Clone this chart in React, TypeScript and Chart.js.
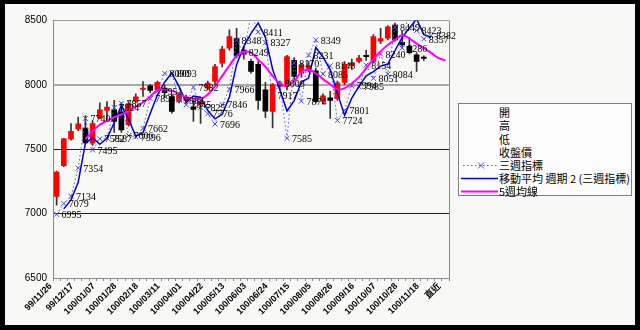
import React, { useEffect, useRef } from 'react';
import { Chart, registerables } from 'chart.js';

Chart.register(...registerables);

// weekly categories (ROC calendar), last one is the latest
const weekLabels = [
  '99/11/26', '99/12/03', '99/12/10', '99/12/17', '99/12/24', '99/12/31',
  '100/01/07', '100/01/14', '100/01/21', '100/01/28', '100/02/04', '100/02/11',
  '100/02/18', '100/02/25', '100/03/04', '100/03/11', '100/03/18', '100/03/25',
  '100/04/01', '100/04/08', '100/04/15', '100/04/22', '100/04/29', '100/05/06',
  '100/05/13', '100/05/20', '100/05/27', '100/06/03', '100/06/10', '100/06/17',
  '100/06/24', '100/07/01', '100/07/08', '100/07/15', '100/07/22', '100/07/29',
  '100/08/05', '100/08/12', '100/08/19', '100/08/26', '100/09/02', '100/09/09',
  '100/09/16', '100/09/23', '100/09/30', '100/10/07', '100/10/14', '100/10/21',
  '100/10/28', '100/11/04', '100/11/11', '100/11/18', '100/11/25', '100/12/02',
  '直近',
];

const yTicks = [6500, 7000, 7500, 8000, 8500];

const openV = [
  7134, 7372, 7580, 7657, 7665, 7548, 7742, 7801, 7807, 7790,
  7690, 7871, 7965, 7993, 7962, 7975, 7910, 7871, 7880, 7830,
  7850, 7975, 8026, 8169, 8286, 8360, 8270, 8182, 8160, 7962,
  7794, 8010, 7990, 8190, 8091, 8120, 8110, 7871, 7900, 7895,
  8020, 8150, 8182, 8230, 8182, 8340, 8363, 8465, 8330, 8300,
  8234, 8215,
];
const highV = [
  7330, 7585, 7700, 7750, 7760, 7720, 7860, 7870, 7880, 7860,
  7870, 7930, 8026, 8005, 8030, 8000, 7930, 7940, 7920, 7880,
  7900, 8030, 8160, 8300, 8428, 8440, 8300, 8200, 8180, 8020,
  8010, 8030, 8230, 8210, 8170, 8180, 8130, 7930, 7950, 8030,
  8180, 8200, 8230, 8270, 8390, 8440, 8460, 8480, 8420, 8370,
  8250, 8225,
];
const lowV = [
  7065, 7365, 7570, 7645, 7540, 7530, 7735, 7730, 7630, 7630,
  7680, 7860, 7910, 7940, 7950, 7900, 7780, 7860, 7860, 7716,
  7700, 7960, 8010, 8140, 8270, 8210, 8200, 8090, 7810, 7745,
  7665, 7960, 7960, 8040, 8060, 8100, 7860, 7850, 7740, 7880,
  8000, 8120, 8170, 8190, 8170, 8320, 8350, 8340, 8290, 8240,
  8105, 8190,
];
const closeV = [
  7323, 7580, 7640, 7698, 7550, 7700, 7807, 7828, 7716, 7650,
  7855, 7908, 7975, 7957, 8020, 7940, 7794, 7923, 7900, 7810,
  7870, 8014, 8143, 8278, 8376, 8225, 8240, 8104, 7880, 7795,
  8001, 7990, 8220, 8065, 8156, 8150, 7870, 7915, 7880, 8015,
  8160, 8170, 8208, 8220, 8376, 8360, 8450, 8350, 8310, 8250,
  8182, 8205,
];

const threeWeek = [
  6995, 7079, 7134, 7354, 7740, 7495, 7582, 7587, 7824, 7857,
  7606, 7596, 7662, 7893, 7951, 8090, 8093, 7882, 7845, 7982,
  7825, 7776, 7696, 7846, 7966, 8348, 8249, 8550, 8411, 8327,
  7917, 8008, 7585, 8170, 7874, 8231, 8349, 8085, 8148, 7724,
  7801, 7994, 7985, 8154, 8051, 8240, 8084, 8449, 8286, 8600,
  8423, 8357, 8382, null, null,
];

const movingAvg2 = [
  null, 7037, 7107, 7244, 7547, 7590, 7539, 7585, 7706, 7841,
  7732, 7601, 7629, 7778, 7921, 8021, 8092, 7988, 7864, 7914,
  7904, 7801, 7736, 7771, 7906, 8157, 8299, 8400, 8481, 8369,
  8122, 7963, 7797, 7878, 8022, 8053, 8290, 8217, 8117, 7936,
  7763, 7898, 7990, 8070, 8103, 8146, 8162, 8267, 8368, 8443,
  8512, 8390, 8370, null, null,
];

const fiveWeek = [
  null, null, null, null, 7580, 7640, 7690, 7720, 7750, 7770,
  7795, 7830, 7865, 7910, 7960, 7965, 7955, 7930, 7905, 7895,
  7890, 7925, 7990, 8070, 8150, 8225, 8258, 8250, 8195, 8140,
  8070, 8010, 7995, 8030, 8100, 8115, 8090, 8045, 8005, 7965,
  7975, 8010, 8060, 8130, 8200, 8260, 8310, 8350, 8385, 8360,
  8320, 8285, 8250, 8210, 8190,
];

const legendItems = ['開', '高', '低', '收盤價', '三週指標', '移動平均 週期 2 (三週指標)', '5週均線'];

const pointLabelPlugin = {
  id: 'pointLabels',
  afterDatasetsDraw(chart: any) {
    const idx = chart.data.datasets.findIndex((d: any) => d.label === '三週指標');
    if (idx < 0) return;
    const meta = chart.getDatasetMeta(idx);
    const data = chart.data.datasets[idx].data;
    const c = chart.ctx;
    const { top, bottom } = chart.chartArea;
    c.save();
    c.font = '10px "Liberation Serif", "DejaVu Serif", serif';
    c.fillStyle = '#000';
    c.textBaseline = 'middle';
    c.textAlign = 'left';
    meta.data.forEach((pt: any, i: number) => {
      const v = data[i];
      if (v == null) return;
      if (pt.y < top - 1 || pt.y > bottom + 1) return;
      c.fillText(String(v), pt.x + 5, pt.y + 1);
    });
    c.restore();
  },
};

const frameRightPlugin = {
  id: 'frameRight',
  beforeDatasetsDraw(chart: any) {
    const { right, top, bottom } = chart.chartArea;
    const c = chart.ctx;
    c.save();
    c.strokeStyle = '#8a8a8a';
    c.lineWidth = 1;
    c.beginPath();
    c.moveTo(right + 0.5, top);
    c.lineTo(right + 0.5, bottom);
    c.stroke();
    c.restore();
  },
};

export default function App() {
  const ref = useRef<HTMLCanvasElement | null>(null);

  useEffect(() => {
    if (!ref.current) return;
    const bodies = openV.map((o, i) => [o, closeV[i]]);
    const wicks = lowV.map((l, i) => [l, highV[i]]);
    const bodyColors = openV.map((o, i) => (closeV[i] >= o ? '#ff0000' : '#000000'));

    const chart = new Chart(ref.current, {
      type: 'bar',
      data: {
        labels: weekLabels,
        datasets: [
          {
            type: 'line',
            label: '5週均線',
            data: fiveWeek as any,
            borderColor: '#ff00ff',
            borderWidth: 2,
            pointRadius: 0,
            tension: 0.4,
            fill: false,
            order: 0,
          },
          {
            type: 'line',
            label: '移動平均 週期 2 (三週指標)',
            data: movingAvg2 as any,
            borderColor: '#0000c8',
            borderWidth: 1.5,
            pointRadius: 0,
            tension: 0,
            fill: false,
            order: 1,
          },
          {
            type: 'line',
            label: '三週指標',
            data: threeWeek as any,
            borderColor: '#5a5ad8',
            borderWidth: 1,
            borderDash: [1.5, 2.5],
            pointStyle: 'crossRot',
            pointRadius: 3.5,
            pointBorderColor: '#4a4ad0',
            pointBorderWidth: 1,
            tension: 0,
            fill: false,
            order: 2,
          },
          {
            type: 'bar',
            label: '收盤價',
            data: bodies as any,
            backgroundColor: bodyColors,
            borderWidth: 0,
            barThickness: 5,
            grouped: false,
            order: 5,
          } as any,
          {
            type: 'bar',
            label: '高低',
            data: wicks as any,
            backgroundColor: '#333333',
            borderWidth: 0,
            barThickness: 1,
            grouped: false,
            order: 6,
          } as any,
        ],
      },
      options: {
        responsive: false,
        animation: false,
        events: [],
        layout: { padding: { left: 0, top: 20.5, right: 191, bottom: 0 } },
        plugins: { legend: { display: false }, tooltip: { enabled: false } },
        scales: {
          x: {
            type: 'category',
            offset: true,
            grid: {
              display: true,
              drawOnChartArea: false,
              drawTicks: true,
              tickLength: 3,
              color: '#8a8a8a',
            },
            border: { color: '#8a8a8a' },
            ticks: {
              autoSkip: false,
              minRotation: 45,
              maxRotation: 45,
              padding: 0,
              labelOffset: -6,
              color: '#000',
              font: { family: '"Liberation Sans", "Noto Sans CJK TC", sans-serif', size: 9, weight: 'bold' },
              callback: (_v: any, i: number) => (i % 3 === 0 ? weekLabels[i] : ''),
            },
            afterFit: (scale: any) => {
              scale.height = 52;
            },
          },
          y: {
            type: 'linear',
            min: yTicks[0],
            max: yTicks[yTicks.length - 1],
            afterBuildTicks: (scale: any) => {
              scale.ticks = yTicks.map((v) => ({ value: v }));
            },
            grid: {
              drawTicks: false,
              color: (ctx: any) =>
                ctx.tick && ctx.tick.value === 8000 ? '#a8a8a8' : ctx.tick && ctx.tick.value === 8500 ? '#9a9a9a' : '#222222',
              lineWidth: (ctx: any) => (ctx.tick && ctx.tick.value === 8000 ? 2 : 1),
            },
            border: { color: '#8a8a8a' },
            ticks: {
              padding: 6,
              color: '#000',
              font: { family: '"Liberation Sans", sans-serif', size: 10 },
              callback: (v: any) => String(v),
            },
            afterFit: (scale: any) => {
              scale.width = 53;
            },
          },
        },
      },
      plugins: [frameRightPlugin, pointLabelPlugin],
    });
    return () => chart.destroy();
  }, []);

  const rowTop = [7.7, 21, 34.7, 48, 61, 74.3, 87.3];

  return (
    <div style={{ position: 'absolute', left: 0, top: 0, width: 640, height: 330, background: '#000', overflow: 'hidden' }}>
      <div style={{ position: 'absolute', left: 5, top: 4, width: 630, height: 321, background: '#f8f8f6' }} />
      <canvas ref={ref} width={640} height={330} style={{ position: 'absolute', left: 0, top: 0, width: 640, height: 330 }} />
      <div
        style={{
          position: 'absolute',
          left: 458,
          top: 103,
          width: 172,
          height: 91,
          border: '1px solid #808080',
          background: '#fcfcfc',
          fontFamily: '"Noto Sans CJK TC", "Noto Sans", sans-serif',
          fontSize: 11,
          color: '#000',
        }}
      >
        {legendItems.map((t, i) => (
          <div key={t} style={{ position: 'absolute', left: 0, top: rowTop[i] - 7, height: 14, width: 172 }}>
            {i === 4 && (
              <svg width={40} height={14} style={{ position: 'absolute', left: 2, top: 0 }}>
                <line x1={2} y1={7.5} x2={37} y2={7.5} stroke="#5a5ad8" strokeWidth={1} strokeDasharray="1.5 2.5" />
                <line x1={17} y1={4.5} x2={23} y2={10.5} stroke="#4a4ad0" strokeWidth={1} />
                <line x1={23} y1={4.5} x2={17} y2={10.5} stroke="#4a4ad0" strokeWidth={1} />
              </svg>
            )}
            {i === 5 && (
              <svg width={40} height={14} style={{ position: 'absolute', left: 1, top: 0 }}>
                <line x1={1} y1={7.5} x2={38} y2={7.5} stroke="#0000c8" strokeWidth={1.5} />
              </svg>
            )}
            {i === 6 && (
              <svg width={40} height={14} style={{ position: 'absolute', left: 1, top: 0 }}>
                <line x1={1} y1={7.5} x2={38} y2={7.5} stroke="#ff00ff" strokeWidth={2} />
              </svg>
            )}
            <span style={{ position: 'absolute', left: 40, top: 0, lineHeight: '14px', whiteSpace: 'nowrap' }}>{t}</span>
          </div>
        ))}
      </div>
    </div>
  );
}
